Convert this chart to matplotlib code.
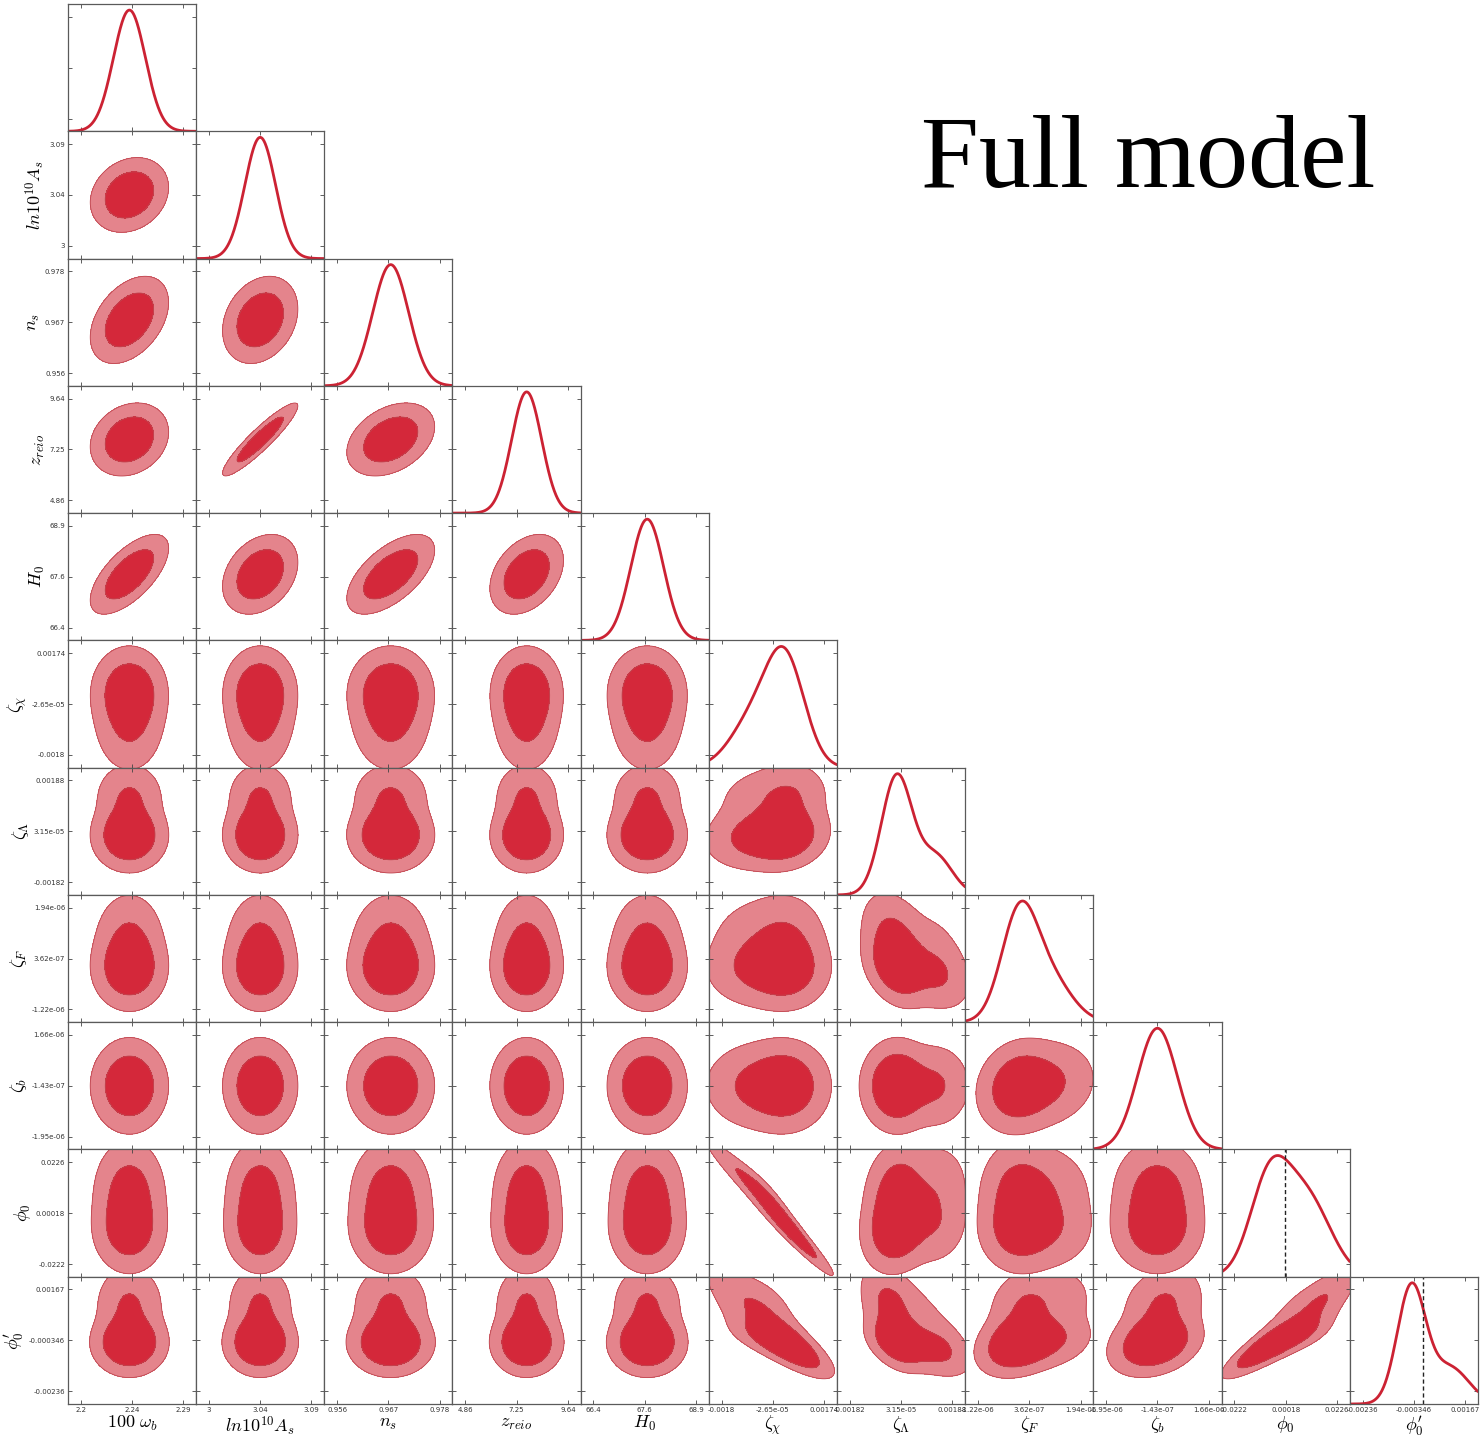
import math
import numpy as np
import matplotlib
matplotlib.use("Agg")
import matplotlib.pyplot as plt

plt.rcParams["mathtext.fontset"] = "cm"
plt.rcParams["font.family"] = ["DejaVu Sans"]

# ---------------------------------------------------------------- parameters
param_labels = [r"$100~\omega_b$", r"$ln10^{10}A_s$", r"$n_s$", r"$z_{reio}$",
                r"$H_0$", r"$\zeta_\chi$", r"$\zeta_\Lambda$", r"$\zeta_F$",
                r"$\zeta_b$", r"$\phi_0$", r"$\phi_0^{\prime}$"]

tick_labels = [["2.2", "2.24", "2.29"],
               ["3", "3.04", "3.09"],
               ["0.956", "0.967", "0.978"],
               ["4.86", "7.25", "9.64"],
               ["66.4", "67.6", "68.9"],
               ["-0.0018", "-2.65e-05", "0.00174"],
               ["-0.00182", "3.15e-05", "0.00188"],
               ["-1.22e-06", "3.62e-07", "1.94e-06"],
               ["-1.95e-06", "-1.43e-07", "1.66e-06"],
               ["-0.0222", "0.00018", "0.0226"],
               ["-0.00236", "-0.000346", "0.00167"]]

# values at the outer ticks (10% and 90% of each axis range)
tick_lo = [2.195, 3.000, 0.956, 4.86, 66.4, -0.0017965, -0.00182,
           -1.218e-6, -1.948e-6, -0.0222, -0.00236]
tick_hi = [2.286, 3.088, 0.978, 9.64, 68.9, 0.0017435, 0.00188,
           1.942e-6, 1.662e-6, 0.0226, 0.001668]

# marginal posteriors: main peak plus an optional secondary component
peak_mean = [2.2382, 3.044, 0.9675, 7.72, 67.71, 0.000416, -0.000127,
             4.6e-8, -1.44e-7, -0.00695, -0.000447]
peak_sigma = [0.0142, 0.0132, 0.00385, 0.70, 0.40, 0.000664, 0.000555,
              5.53e-7, 7.0e-7, 0.00854, 0.000554]
tail_weight = [0.0, 0.0, 0.0, 0.0, 0.0, 0.36, 0.26, 0.33, 0.0, 0.50, 0.30]
tail_mean = [2.2382, 3.044, 0.9675, 7.72, 67.71, -0.000690, 0.001279,
             9.94e-7, -1.44e-7, 0.00952, 0.001064]
tail_sigma = [0.0142, 0.0132, 0.00385, 0.70, 0.40, 0.000797, 0.000601,
              6.72e-7, 7.0e-7, 0.01037, 0.000755]

# pairwise correlation coefficients (unlisted pairs are uncorrelated)
correlations = [(0, 1, 0.20), (0, 2, 0.40), (1, 2, 0.25), (0, 3, 0.20),
                (1, 3, 0.92), (2, 3, 0.35), (0, 4, 0.65), (1, 4, 0.30),
                (2, 4, 0.60), (3, 4, 0.35), (5, 6, 0.15), (6, 7, -0.35),
                (7, 8, 0.15), (5, 9, -0.97), (6, 9, 0.15), (5, 10, -0.80),
                (6, 10, -0.50), (7, 10, 0.30), (8, 10, 0.30), (9, 10, 0.88)]

# parameters whose 1D panel carries a reference line at zero
reference_zero = [9, 10]

title_text = "Full model"

# ---------------------------------------------------------------- styling
INNER = "#d4283a"
OUTER = "#e4848c"
EDGE = "#c04650"
LINE = "#cc2233"
FRAME = "#5a5a5a"

n = len(param_labels)
rho = np.eye(n)
for a, b, r in correlations:
    rho[a, b] = rho[b, a] = r

span = [(hi - lo) / 0.8 for lo, hi in zip(tick_lo, tick_hi)]
lim_lo = [lo - 0.1 * s for lo, s in zip(tick_lo, span)]
lim_hi = [hi + 0.1 * s for hi, s in zip(tick_hi, span)]

ERFC = np.vectorize(math.erfc)
Z_TAB = np.linspace(0.0, 9.0, 3001)
LOGQ_TAB = np.log(0.5 * ERFC(Z_TAB / np.sqrt(2.0)))


def components(k):
    w2 = tail_weight[k]
    return [(1.0 - w2, peak_mean[k], peak_sigma[k]),
            (w2, tail_mean[k], tail_sigma[k])]


def pdf(k, x):
    out = np.zeros_like(x, dtype=float)
    for w, m, s in components(k):
        if w > 0:
            out += w * np.exp(-0.5 * ((x - m) / s) ** 2) / (s * np.sqrt(2 * np.pi))
    return out


def lower_upper(k, x):
    lower = np.zeros_like(x, dtype=float)
    upper = np.zeros_like(x, dtype=float)
    for w, m, s in components(k):
        if w > 0:
            t = (x - m) / (s * np.sqrt(2.0))
            lower += w * 0.5 * ERFC(-t)
            upper += w * 0.5 * ERFC(t)
    return lower, upper


def upper_quantile(p):
    lp = np.log(np.maximum(p, 1e-300))
    return np.interp(lp, LOGQ_TAB[::-1], Z_TAB[::-1])


def normal_score(k, x):
    lower, upper = lower_upper(k, x)
    return np.where(lower < upper, -upper_quantile(lower), upper_quantile(upper))


def joint_density(kx, ky, npts=240):
    gx = np.linspace(lim_lo[kx] - 0.35 * span[kx], lim_hi[kx] + 0.35 * span[kx], npts)
    gy = np.linspace(lim_lo[ky] - 0.35 * span[ky], lim_hi[ky] + 0.35 * span[ky], npts)
    fx, fy = pdf(kx, gx), pdf(ky, gy)
    zx, zy = normal_score(kx, gx), normal_score(ky, gy)
    r = rho[kx, ky]
    ZX, ZY = np.meshgrid(zx, zy)
    FX, FY = np.meshgrid(fx, fy)
    logc = (-0.5 * np.log(1 - r * r)
            - (r * r * (ZX ** 2 + ZY ** 2) - 2 * r * ZX * ZY) / (2 * (1 - r * r)))
    return gx, gy, np.exp(logc) * FX * FY


def mass_levels(dens, fractions=(0.95, 0.68)):
    flat = np.sort(dens.ravel())[::-1]
    cum = np.cumsum(flat)
    cum /= cum[-1]
    return [flat[np.searchsorted(cum, f)] for f in fractions]


def frac_ticks(lo, hi):
    return [lo + f * (hi - lo) for f in (0.1, 0.5, 0.9)]


fig, axes = plt.subplots(n, n, figsize=(14.8, 14.4), dpi=100)
fig.subplots_adjust(left=0.0459, right=0.9986, bottom=0.025, top=0.9972,
                    wspace=0, hspace=0)

for i in range(n):
    for j in range(n):
        ax = axes[i, j]
        if j > i:
            ax.set_axis_off()
            continue

        for sp in ax.spines.values():
            sp.set_color(FRAME)
            sp.set_linewidth(0.9)
        ax.tick_params(direction="in", top=True, right=True, length=3,
                       width=0.6, color="#444444", labelsize=5,
                       labelcolor="#333333", pad=2)

        if i == j:
            x = np.linspace(lim_lo[i], lim_hi[i], 500)
            y = pdf(i, x)
            y = y / y.max()
            ax.plot(x, y, color=LINE, lw=2.0, solid_capstyle="round")
            if i in reference_zero:
                ax.axvline(0.0, color="#222222", lw=1.0, ls=(0, (3, 2)))
            ax.set_ylim(0, 1.05)
            ax.set_yticks(frac_ticks(0, 1.05))
        else:
            gx, gy, dens = joint_density(j, i)
            l95, l68 = mass_levels(dens)
            ax.contourf(gx, gy, dens, levels=[l95, l68, dens.max() * 1.01],
                        colors=[OUTER, INNER])
            ax.contour(gx, gy, dens, levels=[l95, l68], colors=[EDGE],
                       linewidths=0.6)
            ax.set_ylim(lim_lo[i], lim_hi[i])
            ax.set_yticks(frac_ticks(lim_lo[i], lim_hi[i]))

        ax.set_xlim(lim_lo[j], lim_hi[j])
        ax.set_xticks(frac_ticks(lim_lo[j], lim_hi[j]))

        if i == n - 1:
            ax.set_xticklabels(tick_labels[j])
            ax.set_xlabel(param_labels[j], fontsize=13, labelpad=1)
        else:
            ax.set_xticklabels([])
        if j == 0 and i > 0:
            ax.set_yticklabels(tick_labels[i])
            ax.set_ylabel(param_labels[i], fontsize=13, labelpad=2)
        else:
            ax.set_yticklabels([])

fig.text(0.776, 1 - 187 / 1440, title_text, ha="center", va="baseline",
         fontsize=75, family="Liberation Serif")

fig.savefig("out.png", dpi=100)
